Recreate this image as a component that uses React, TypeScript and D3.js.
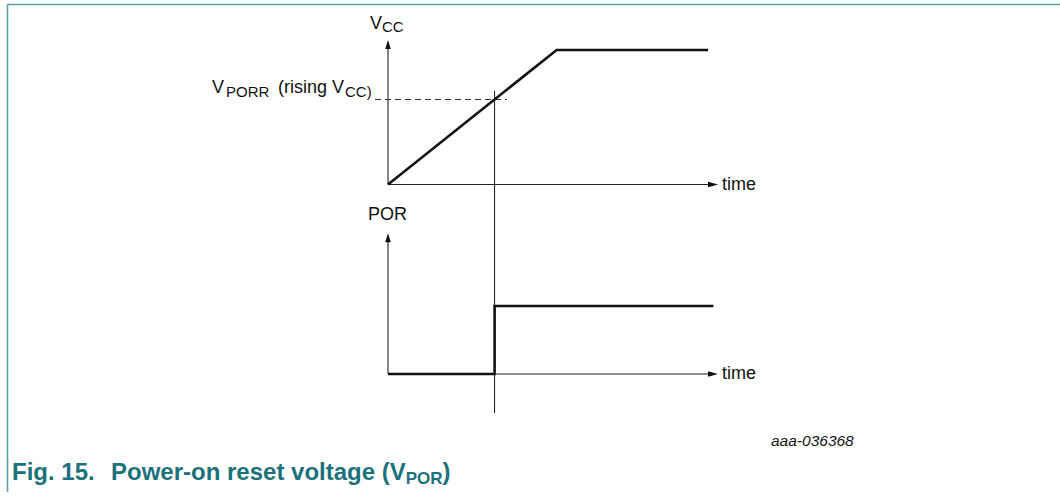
import React from "react";
import * as d3 from "d3";

// ---- data ----
const timeDomain = [0, 100];
const vccTimes = [0, 51.1, 97];
const vccValues = [0, 1, 1];
const porTimes = [0, 32.3, 32.3, 98.6];
const porValues = [0, 0, 1, 1];
const vporrLevel = 0.632;
const thresholdTime = 32.3;
const upperAxisMax = 1.075;
const lowerAxisMax = 2.07;
const axisLabels = ["time", "time"];
const figId = "aaa-036368";

const W = 1060;
const H = 497;
const FONT = "'Liberation Sans', Arial, Helvetica, sans-serif";
const TEAL = "#1b727c";
const BORDER = "#5a9ea6";

export default function App() {
  const x = d3.scaleLinear().domain(timeDomain).range([388, 718]);
  const yU = d3.scaleLinear().domain([0, 1]).range([184.5, 50]);
  const yL = d3.scaleLinear().domain([0, 1]).range([374, 306]);

  const vccPts: [number, number][] = vccTimes.map((t, i) => [t, vccValues[i]]);
  const porPts: [number, number][] = porTimes.map((t, i) => [t, porValues[i]]);
  const lineU = d3.line<[number, number]>().x((d) => x(d[0])).y((d) => yU(d[1]));
  const lineL = d3.line<[number, number]>().x((d) => x(d[0])).y((d) => yL(d[1]));

  const x0 = x(0);
  const xEnd = x(timeDomain[1]);
  const xTh = x(thresholdTime);

  const upArrow = (cx: number, tip: number) =>
    `M${cx},${tip} L${cx - 2.8},${tip + 9} L${cx + 2.8},${tip + 9} Z`;
  const rightArrow = (tip: number, cy: number) =>
    `M${tip},${cy} L${tip - 10},${cy - 2.8} L${tip - 10},${cy + 2.8} Z`;

  return (
    <svg
      width={W}
      height={H}
      viewBox={`0 0 ${W} ${H}`}
      style={{ position: "absolute", left: 0, top: 0, background: "#fff" }}
    >
      {/* frame */}
      <line x1={7.5} y1={4.5} x2={W} y2={4.5} stroke={BORDER} strokeWidth={1.6} />
      <line x1={7.5} y1={4.5} x2={7.5} y2={492} stroke={BORDER} strokeWidth={1.6} />

      {/* upper axes */}
      <line x1={x0} y1={yU(0)} x2={x0} y2={yU(upperAxisMax) + 6} stroke="#222" strokeWidth={1.1} />
      <path d={upArrow(x0, yU(upperAxisMax))} fill="#111" />
      <line x1={x0} y1={yU(0)} x2={xEnd - 6} y2={yU(0)} stroke="#222" strokeWidth={1.1} />
      <path d={rightArrow(xEnd, yU(0))} fill="#111" />

      {/* dashed VPORR level */}
      <line
        x1={375}
        y1={yU(vporrLevel)}
        x2={x(36)}
        y2={yU(vporrLevel)}
        stroke="#333"
        strokeWidth={1}
        strokeDasharray="6,4"
      />

      {/* VCC curve */}
      <path d={lineU(vccPts) || ""} fill="none" stroke="#111" strokeWidth={2.6} strokeLinejoin="miter" />

      {/* lower axes */}
      <line x1={x0} y1={yL(0)} x2={x0} y2={yL(lowerAxisMax) + 6} stroke="#222" strokeWidth={1.1} />
      <path d={upArrow(x0, yL(lowerAxisMax))} fill="#111" />
      <line x1={x0} y1={yL(0)} x2={xEnd - 6} y2={yL(0)} stroke="#222" strokeWidth={1.1} />
      <path d={rightArrow(xEnd, yL(0))} fill="#111" />

      {/* threshold vertical */}
      <line x1={xTh} y1={90.7} x2={xTh} y2={413} stroke="#111" strokeWidth={1} />

      {/* POR curve */}
      <path d={lineL(porPts) || ""} fill="none" stroke="#111" strokeWidth={2.6} strokeLinejoin="miter" />

      {/* labels */}
      <g fontFamily={FONT} fill="#111">
        <text x={370} y={28.5} fontSize={18}>
          V<tspan fontSize={15} dy={3.5}>CC</tspan>
        </text>
        <text x={212} y={92.7} fontSize={18}>
          V<tspan x={226} dy={4} fontSize={15}>PORR</tspan><tspan x={278} dy={-4}>(rising V</tspan><tspan x={345} dy={4} fontSize={15}>CC)</tspan>
        </text>
        <text x={368} y={220} fontSize={18}>POR</text>
        <text x={722} y={190} fontSize={18}>{axisLabels[0]}</text>
        <text x={722} y={378.5} fontSize={18}>{axisLabels[1]}</text>
        <text x={771} y={446} fontSize={15.5} fontStyle="italic">{figId}</text>
      </g>

      {/* caption */}
      <text x={12} y={480} fontFamily={FONT} fontWeight="bold" fontSize={24} fill={TEAL}>
        Fig. 15.
        <tspan x={111}>Power-on reset voltage (V</tspan>
        <tspan fontSize={17} dy={4}>POR</tspan>
        <tspan dy={-4}>)</tspan>
      </text>
    </svg>
  );
}
